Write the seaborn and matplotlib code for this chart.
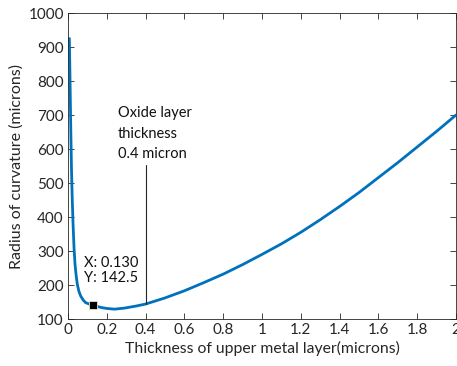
import matplotlib
matplotlib.use("Agg")
import matplotlib.pyplot as plt
import seaborn as sns
import pandas as pd

# values
thickness = [0.007, 0.010, 0.014, 0.018, 0.022, 0.026, 0.031, 0.036, 0.042, 0.048,
             0.056, 0.065, 0.078, 0.091, 0.110, 0.130, 0.150, 0.170, 0.200, 0.240,
             0.290, 0.350, 0.400, 0.500, 0.600, 0.700, 0.800, 0.900, 1.000, 1.100,
             1.200, 1.300, 1.400, 1.500, 1.600, 1.700, 1.800, 1.900, 2.000]
radius = [925, 820, 670, 540, 450, 380, 310, 262, 228, 202,
          182, 168, 156, 148, 144, 141, 137, 134, 131, 129,
          132, 138, 144, 162, 183, 207, 232, 260, 290, 321,
          355, 392, 431, 472, 516, 560, 606, 652, 700]

tip_x, tip_y = 0.130, 142.5
oxide_x = 0.4
oxide_line = [145, 553]

x_ticks = [0, 0.2, 0.4, 0.6, 0.8, 1, 1.2, 1.4, 1.6, 1.8, 2]
x_tick_labels = ["0", "0.2", "0.4", "0.6", "0.8", "1", "1.2", "1.4", "1.6", "1.8", "2"]
y_ticks = [100, 200, 300, 400, 500, 600, 700, 800, 900, 1000]

df = pd.DataFrame({"thickness": thickness, "radius": radius})

sns.set_theme(style="ticks")
plt.rcParams["font.family"] = ["Lato", "DejaVu Sans"]

fig = plt.figure(figsize=(4.57, 3.66), dpi=100)
ax = fig.add_axes([0.1488, 0.1284, 0.849, 0.836])

sns.lineplot(data=df, x="thickness", y="radius", ax=ax, color="#0072BD",
             linewidth=2.0, sort=False)

# oxide layer marker line
ax.plot([oxide_x, oxide_x], oxide_line, color="#262626", linewidth=0.8)
ax.text(0.258, 645, "Oxide layer\nthickness\n0.4 micron", fontsize=10.5,
        va="center", ha="left", linespacing=1.6, color="#111111")

# data tip
ax.plot([tip_x], [tip_y], marker="s", markersize=6, color="black",
        markeredgecolor="#e8e6c0", markeredgewidth=0.6)
ax.text(0.082, 243, f"X: {tip_x:.3f}\nY: {tip_y}", fontsize=10.5,
        va="center", ha="left", linespacing=1.1, color="#111111")

ax.set_xlim(0, 2)
ax.set_ylim(100, 1000)
ax.set_xticks(x_ticks)
ax.set_xticklabels(x_tick_labels)
ax.set_yticks(y_ticks)
ax.set_xlabel("Thickness of upper metal layer(microns)", fontsize=11.3,
              color="#262626", labelpad=3)
ax.set_ylabel("Radius of curvature (microns)", fontsize=11.5,
              color="#262626", labelpad=3)

ax.tick_params(direction="in", length=4, width=0.6, colors="#262626",
               labelsize=11, top=True, right=True, pad=3)
for side in ax.spines.values():
    side.set_visible(True)
    side.set_linewidth(0.6)
    side.set_color("#262626")

fig.savefig("out.png", dpi=100)
plt.close(fig)
